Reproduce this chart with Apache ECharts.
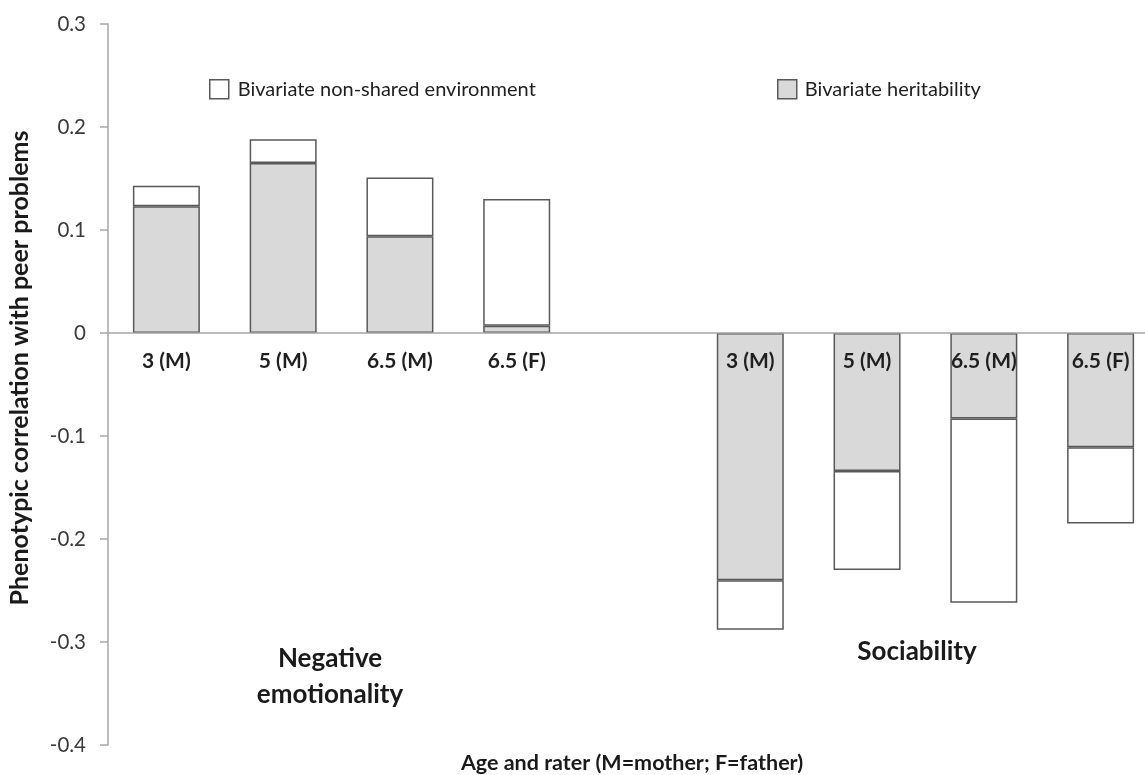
<!DOCTYPE html>
<html>
<head>
<meta charset="utf-8">
<script src="https://cdn.jsdelivr.net/npm/echarts@6/dist/echarts.min.js"></script>
<style>
html,body{margin:0;padding:0;background:#fff;}
#chart{width:1145px;height:775px;}
</style>
</head>
<body>
<div id="chart"></div>
<script>
// Categories: 4 negative emotionality, one empty gap slot, 4 sociability
const categories = ['3 (M)', '5 (M)', '6.5 (M)', '6.5 (F)', '', '3 (M)', '5 (M)', '6.5 (M)', '6.5 (F)'];
// Bivariate heritability component (grey, bottom of stack)
const heritability = [0.123, 0.165, 0.094, 0.007, null, -0.240, -0.134, -0.083, -0.111];
// Bivariate non-shared environment component (white, stacked on top)
const nonShared = [0.020, 0.023, 0.057, 0.123, null, -0.048, -0.096, -0.179, -0.074];
const seriesNames = ['Bivariate non-shared environment', 'Bivariate heritability'];
const yTicks = {min: -0.4, max: 0.3, interval: 0.1};
const groupLabels = ['Negative\nemotionality', 'Sociability'];
const xTitle = 'Age and rater (M=mother; F=father)';
const yTitle = 'Phenotypic correlation with peer problems';

const FONT = 'Lato';
const GRID_TOP = 24, GRID_BOTTOM = 30, H = 775;
const chart = echarts.init(document.getElementById('chart'), null, {renderer: 'canvas'});
const border = {borderColor: '#595959', borderWidth: 1.5};

// offset that lifts the label axis from the grid bottom up to the zero line
const plotH = H - GRID_TOP - GRID_BOTTOM;
const zeroLift = plotH * (0 - yTicks.min) / (yTicks.max - yTicks.min);

const option = {
  animation: false,
  backgroundColor: '#ffffff',
  textStyle: {fontFamily: FONT},
  grid: {left: 108, top: GRID_TOP, bottom: GRID_BOTTOM, width: 1051, containLabel: false, outerBoundsMode: 'none'},
  legend: [
    {
      data: [seriesNames[0]], left: 209, top: 79, padding: 0,
      itemWidth: 19, itemHeight: 19, icon: 'rect',
      itemStyle: border,
      textStyle: {fontFamily: FONT, fontSize: 20, color: '#1f1f1f', padding: [0, 0, 0, 4]}
    },
    {
      data: [seriesNames[1]], left: 777, top: 79, padding: 0,
      itemWidth: 19, itemHeight: 19, icon: 'rect',
      itemStyle: border,
      textStyle: {fontFamily: FONT, fontSize: 20, color: '#1f1f1f', padding: [0, 0, 0, 3]}
    }
  ],
  xAxis: [
    {
      type: 'category',
      data: categories,
      z: 10,
      axisLine: {onZero: true, lineStyle: {color: '#a6a6a6', width: 1.5}},
      axisTick: {show: false},
      axisLabel: {show: false},
      splitLine: {show: false}
    },
    {
      type: 'category',
      data: categories,
      position: 'bottom',
      offset: -zeroLift,
      z: 10,
      axisLine: {show: false, onZero: false},
      axisTick: {show: false},
      axisLabel: {
        interval: 0, margin: 18,
        fontFamily: FONT, fontWeight: 'bold', fontSize: 21, color: '#1f1f1f'
      },
      splitLine: {show: false}
    }
  ],
  yAxis: {
    type: 'value',
    min: yTicks.min, max: yTicks.max, interval: yTicks.interval,
    axisLine: {show: true, lineStyle: {color: '#a6a6a6', width: 1.5}},
    axisTick: {show: true, length: 8, lineStyle: {color: '#a6a6a6', width: 1.5}},
    splitLine: {show: false},
    axisLabel: {
      margin: 22, fontFamily: FONT, fontSize: 20.5, color: '#3a3a3a',
      formatter: v => {
        const r = Math.round(v * 10) / 10;
        return r === 0 ? '0' : r.toFixed(1);
      }
    }
  },
  series: [
    {
      name: seriesNames[1], type: 'bar', stack: 'total', barWidth: 67,
      itemStyle: Object.assign({color: '#d9d9d9'}, border),
      data: heritability
    },
    {
      name: seriesNames[0], type: 'bar', stack: 'total', barWidth: 67,
      itemStyle: Object.assign({color: '#ffffff'}, border),
      data: nonShared
    }
  ],
  graphic: [
    {
      type: 'text', x: 330, y: 677, z: 20,
      style: {text: groupLabels[0], font: 'bold 26px ' + FONT, fill: '#1a1a1a',
        align: 'center', verticalAlign: 'middle', lineHeight: 36}
    },
    {
      type: 'text', x: 917, y: 652, z: 20,
      style: {text: groupLabels[1], font: 'bold 26px ' + FONT, fill: '#1a1a1a',
        align: 'center', verticalAlign: 'middle'}
    },
    {
      type: 'text', x: 632, y: 763, z: 20,
      style: {text: xTitle, font: 'bold 21.5px ' + FONT, fill: '#1a1a1a',
        align: 'center', verticalAlign: 'middle'}
    },
    {
      type: 'text', x: 20, y: 368, z: 20, rotation: Math.PI / 2,
      style: {text: yTitle, font: 'bold 25px ' + FONT, fill: '#1a1a1a',
        align: 'center', verticalAlign: 'middle'}
    }
  ]
};
chart.setOption(option);
</script>
</body>
</html>
